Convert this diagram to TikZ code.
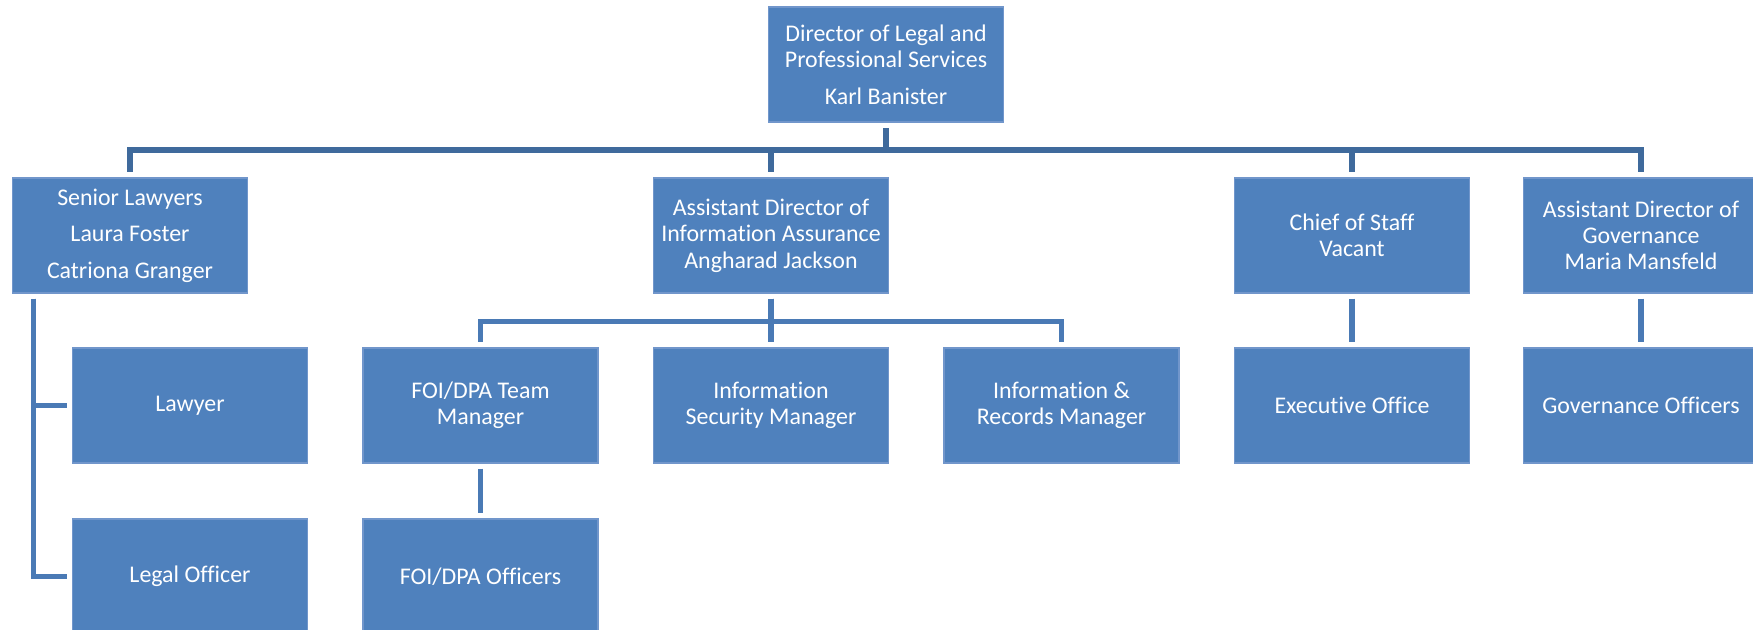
\documentclass[tikz,border=0pt]{standalone}
\usepackage{fontspec}
\setmainfont{Carlito}[Ligatures=NoCommon]
\definecolor{boxblue}{HTML}{4F81BD}
\definecolor{boxrim}{HTML}{7196CB}
\definecolor{bardark}{HTML}{3F6A9C}
\definecolor{linkblue}{HTML}{4A7AB5}
\begin{document}
\begin{tikzpicture}[
        box/.style={rectangle,fill=boxblue,draw=boxrim,line width=0.3pt,text=white,align=center,
                    minimum width=2.35cm,minimum height=1.15cm,inner sep=0pt,
                    font=\fontsize{6.8}{7.5}\selectfont},
        bar/.style={draw=bardark,line width=1.5pt,shorten <=0.055cm,shorten >=0.05cm},
        link/.style={draw=linkblue,line width=1.5pt,shorten <=0.05cm,shorten >=0.05cm}]
        \useasboundingbox (0,0) rectangle (17.53,-6.30);
        \draw (8.86,-0.645)   node[box] (dir)  {Director of Legal and\\ Professional Services\\[2.9pt] Karl Banister};
        \draw (1.30,-2.355)   node[box] (sl)   {Senior Lawyers\\[2.9pt] Laura Foster\\[2.9pt] Catriona Granger};
        \draw (7.71,-2.355)   node[box] (adia) {Assistant Director of\\ Information Assurance\\ Angharad Jackson};
        \draw (13.52,-2.355)  node[box] (cos)  {Chief of Staff\\ Vacant};
        \draw (16.41,-2.355)  node[box] (adg)  {Assistant Director of\\ Governance\\ Maria Mansfeld};
        \draw (1.90,-4.055)   node[box] (law)  {Lawyer};
        \draw (4.805,-4.055)  node[box] (foi)  {FOI/DPA Team\\ Manager};
        \draw (7.71,-4.055)   node[box] (sec)  {Information\\ Security Manager};
        \draw (10.615,-4.055) node[box] (rec)  {Information \&\\ Records Manager};
        \draw (13.52,-4.055)  node[box] (exe)  {Executive Office};
        \draw (16.41,-4.055)  node[box] (gov)  {Governance Officers};
        \draw (1.90,-5.765)   node[box] (leg)  {Legal Officer};
        \draw (4.805,-5.765)  node[box] (foio) {FOI/DPA Officers};
        \draw[bar] (dir.south) -- ++(0,-0.275) -| (sl.north);
        \draw[bar] (dir.south) -- ++(0,-0.275) -| (adia.north);
        \draw[bar] (dir.south) -- ++(0,-0.275) -| (cos.north);
        \draw[bar] (dir.south) -- ++(0,-0.275) -| (adg.north);
        \draw[link] ([xshift=0.215cm]sl.south west) |- (law.west);
        \draw[link] ([xshift=0.215cm]sl.south west) |- (leg.west);
        \draw[link] (adia.south) -- ++(0,-0.28) -| (foi.north);
        \draw[link] (adia.south) -- (sec.north);
        \draw[link] (adia.south) -- ++(0,-0.28) -| (rec.north);
        \draw[link] (foi.south) -- (foio.north);
        \draw[link] (cos.south) -- (exe.north);
        \draw[link] (adg.south) -- (gov.north);
    \end{tikzpicture}
\end{document}
